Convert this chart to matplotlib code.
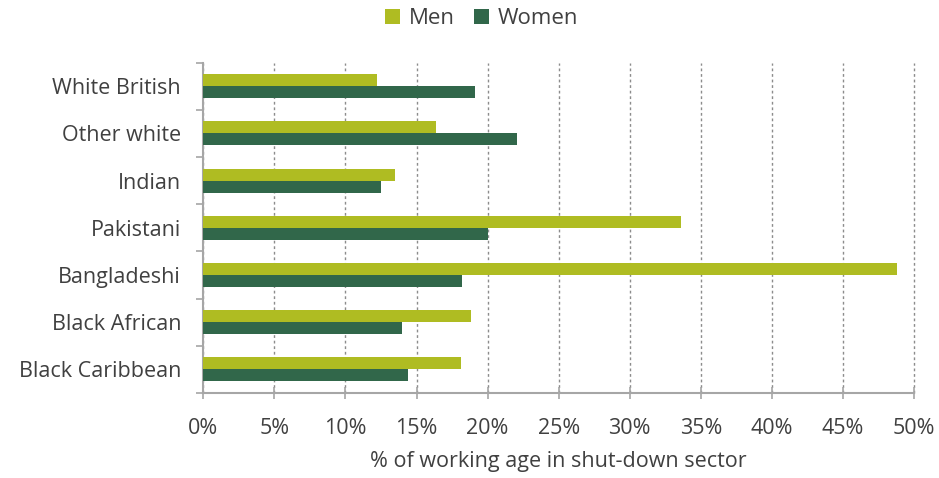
import numpy as np
import matplotlib
matplotlib.use('Agg')
import matplotlib.pyplot as plt
from matplotlib.ticker import FuncFormatter

# Data
groups = ['White British', 'Other white', 'Indian', 'Pakistani',
          'Bangladeshi', 'Black African', 'Black Caribbean']
men = [12.2, 16.4, 13.5, 33.6, 48.8, 18.8, 18.1]
women = [19.1, 22.1, 12.5, 20.0, 18.2, 14.0, 14.4]
xticks = [0, 5, 10, 15, 20, 25, 30, 35, 40, 45, 50]

men_col = '#afbc22'
women_col = '#31674a'
txt_col = '#404040'
axis_col = '#a6a6a6'

plt.rcParams['font.family'] = ['Open Sans', 'DejaVu Sans']

fig = plt.figure(figsize=(9.39, 4.78), dpi=100)
ax = fig.add_axes([0.2165, 0.178, 0.757, 0.691])

y = np.arange(len(groups))
h = 0.255
ax.barh(y - h / 2, men, height=h, color=men_col, label='Men', zorder=3)
ax.barh(y + h / 2, women, height=h, color=women_col, label='Women', zorder=3)

ax.set_ylim(len(groups) - 0.5, -0.5)
ax.set_xlim(0, 50)

# category labels in the middle, ticks at the boundaries
ax.set_yticks(np.arange(-0.5, len(groups), 1.0))
ax.set_yticklabels([])
ax.set_yticks(y, minor=True)
ax.set_yticklabels(groups, minor=True, fontsize=15.5, color=txt_col)
ax.tick_params(axis='y', which='minor', length=0, pad=16)
ax.tick_params(axis='y', which='major', length=5, color=axis_col, width=1.2)

ax.set_xticks(xticks)
ax.xaxis.set_major_formatter(FuncFormatter(lambda v, p: '%d%%' % v))
ax.tick_params(axis='x', direction='inout', length=8, color=axis_col, width=1.2,
               labelsize=15.5, labelcolor=txt_col, pad=14)

ax.grid(axis='x', linestyle=(0, (2, 2)), color='#8c8c8c', linewidth=1.0, zorder=0)
for gl in ax.get_xgridlines():
    gl.set_clip_on(False)

for s in ['top', 'right']:
    ax.spines[s].set_visible(False)
for s in ['left', 'bottom']:
    ax.spines[s].set_color(axis_col)
    ax.spines[s].set_linewidth(1.5)

ax.set_xlabel('% of working age in shut-down sector', fontsize=15.5, color=txt_col, labelpad=9)

leg = fig.legend(loc='upper center', bbox_to_anchor=(0.513, 1.025), ncol=2, frameon=False,
                 fontsize=16, handlelength=0.65, handleheight=0.65, columnspacing=0.9,
                 handletextpad=0.4)
for t in leg.get_texts():
    t.set_color(txt_col)

fig.savefig('out.png', dpi=100)
